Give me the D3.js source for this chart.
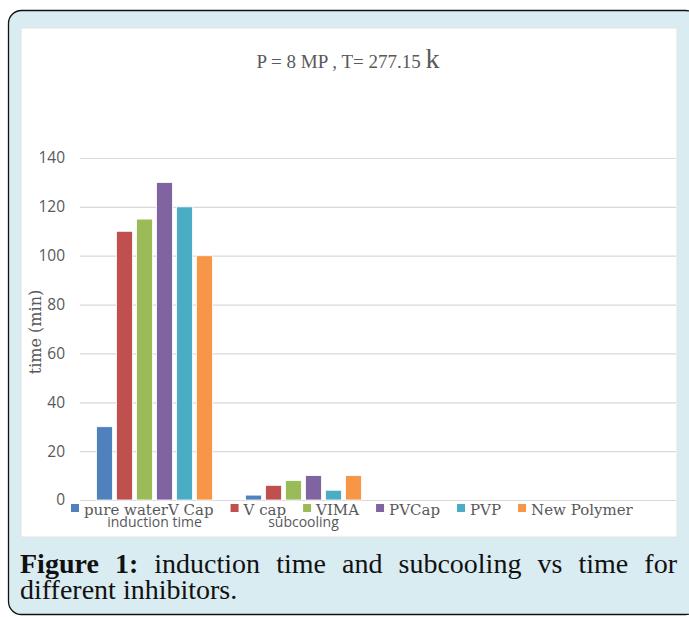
<!DOCTYPE html>
<html lang="en">
<head>
<meta charset="utf-8">
<title>induction time and subcooling</title>
<script src="https://cdn.jsdelivr.net/npm/d3@7"></script>
<style>
  body { margin: 0; background: #fff; }
</style>
</head>
<body>
<script>
  // data
  var categories = ["induction time", "subcooling", "", ""];
  var seriesNames = ["pure waterV Cap", "V cap", "VIMA", "PVCap", "PVP", "New Polymer"];
  var seriesColors = ["#4f81bd", "#c0504d", "#9bbb59", "#8064a2", "#4bacc6", "#f79646"];
  var inductionTime = [30, 110, 115, 130, 120, 100];
  var subcooling = [2, 6, 8, 10, 4, 10];
  var yTicks = [0, 20, 40, 60, 80, 100, 120, 140];

  var values = [inductionTime, subcooling];

  var w = 689, h = 617;
  var svg = d3.select("body").append("svg")
      .attr("width", w)
      .attr("height", h);

  // outer frame + white chart panel
  svg.append("rect")
      .attr("x", 8.5).attr("y", 10.5)
      .attr("width", 690).attr("height", 604)
      .attr("rx", 13)
      .attr("fill", "#d9ecf1")
      .attr("stroke", "#111").attr("stroke-width", 1.3);
  svg.append("rect")
      .attr("x", 21).attr("y", 28)
      .attr("width", 656).attr("height", 509)
      .attr("fill", "#fff")
      .attr("stroke", "#e2e2e2");

  var plotLeft = 80, plotRight = 676, plotTop = 158, plotBottom = 500;

  var x0 = d3.scaleBand().domain(d3.range(categories.length)).range([plotLeft, plotRight]);
  var x1 = d3.scaleBand().domain(d3.range(seriesNames.length))
      .range([0, x0.bandwidth()])
      .paddingInner(0.2).paddingOuter(0.825);
  var y = d3.scaleLinear().domain([0, 140]).range([plotBottom, plotTop]);

  var yAxis = d3.axisLeft(y)
      .tickValues(yTicks)
      .tickSize(-(plotRight - plotLeft))
      .tickPadding(15);

  var gy = svg.append("g")
      .attr("transform", "translate(" + plotLeft + ",0)")
      .call(yAxis);
  gy.select(".domain").remove();
  gy.selectAll(".tick line").attr("stroke", "#d9d9d9").attr("stroke-width", 1.2);
  gy.selectAll(".tick text")
      .attr("fill", "#595959")
      .attr("font-family", "Open Sans, sans-serif")
      .attr("font-size", "15.5px");

  // bars
  var groups = svg.selectAll("g.cat")
      .data(values)
      .enter().append("g")
      .attr("class", "cat")
      .attr("transform", function(d, i) { return "translate(" + x0(i) + ",0)"; });

  groups.selectAll("rect")
      .data(function(d) { return d; })
      .enter().append("rect")
      .attr("x", function(d, i) { return x1(i); })
      .attr("width", x1.bandwidth())
      .attr("y", function(d) { return y(d); })
      .attr("height", function(d) { return y(0) - y(d); })
      .attr("fill", function(d, i) { return seriesColors[i]; })
      .attr("stroke", "#fff").attr("stroke-width", 0.8);

  // category labels
  svg.selectAll("text.cat")
      .data(categories)
      .enter().append("text")
      .attr("class", "cat")
      .attr("x", function(d, i) { return x0(i) + x0.bandwidth() / 2; })
      .attr("y", 527)
      .attr("text-anchor", "middle")
      .attr("fill", "#595959")
      .attr("font-family", "Open Sans, sans-serif")
      .attr("font-size", "14px")
      .text(function(d) { return d; });

  // title
  var title = svg.append("text")
      .attr("x", 348).attr("y", 68)
      .attr("text-anchor", "middle")
      .attr("fill", "#595959")
      .attr("font-family", "Liberation Serif, serif")
      .attr("font-size", "19px");
  title.append("tspan").text("P = 8 MP , T= 277.15 ");
  title.append("tspan").attr("font-size", "28px").text("k");

  // y axis title
  svg.append("text")
      .attr("transform", "translate(41,332) rotate(-90)")
      .attr("text-anchor", "middle")
      .attr("fill", "#595959")
      .attr("font-family", "DejaVu Serif, serif")
      .attr("font-size", "16px")
      .text("time (min)");

  // legend
  var lx = 71;
  seriesNames.forEach(function(name, i) {
    svg.append("rect")
        .attr("x", lx).attr("y", 504)
        .attr("width", 8).attr("height", 8)
        .attr("fill", seriesColors[i]);
    var t = svg.append("text")
        .attr("x", lx + 13).attr("y", 515)
        .attr("fill", "#595959")
        .attr("font-family", "DejaVu Serif, serif")
        .attr("font-size", "15px")
        .text(name);
    lx = lx + 13 + t.node().getComputedTextLength() + 17;
  });

  // caption, justified on first line
  var capLeft = 20, capRight = 677;
  var line1 = ["Figure", "1:", "induction", "time", "and", "subcooling", "vs", "time", "for"];
  var words = [];
  line1.forEach(function(wd, i) {
    var t = svg.append("text")
        .attr("y", 573)
        .attr("fill", "#111")
        .attr("font-family", "Liberation Serif, serif")
        .attr("font-size", "28px")
        .attr("font-weight", i < 2 ? "bold" : "normal")
        .text(wd);
    words.push({ node: t, len: t.node().getComputedTextLength() });
  });
  var total = d3.sum(words, function(d) { return d.len; });
  var gap = (capRight - capLeft - total) / (words.length - 1);
  var cx = capLeft;
  words.forEach(function(d) {
    d.node.attr("x", cx);
    cx += d.len + gap;
  });
  svg.append("text")
      .attr("x", capLeft).attr("y", 599)
      .attr("fill", "#111")
      .attr("font-family", "Liberation Serif, serif")
      .attr("font-size", "28px")
      .text("different inhibitors.");
</script>
</body>
</html>
